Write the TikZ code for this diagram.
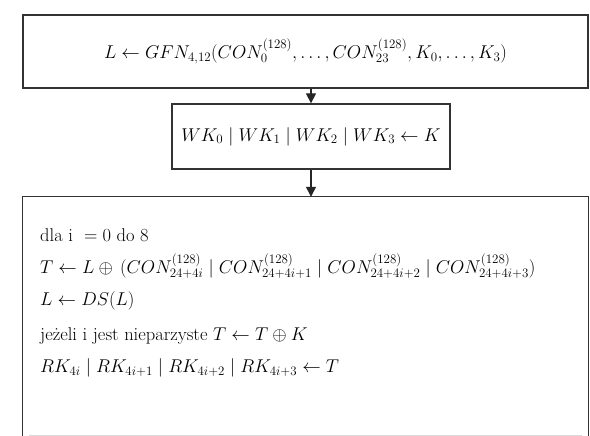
\RequirePackage{fix-cm}
\documentclass[tikz,border=0pt]{standalone}
\usetikzlibrary{arrows.meta}
\begin{document}
\begin{tikzpicture}[x=1pt,y=-1pt,
  box/.style={draw=black!80,line width=1.3pt,inner sep=0pt,font=\fontsize{18.5}{22}\selectfont},
  txt/.style={anchor=west,inner sep=0pt,font=\fontsize{18.5}{22}\selectfont},
  edge3/.style={draw=black!80,line width=1.3pt},
  arr/.style={draw=black!85,line width=1.2pt,-{Triangle[length=10pt,width=10pt]}}]
\useasboundingbox (0,0) rectangle (590,436);
\node[box,minimum width=565pt,minimum height=73pt] (b1) at (305.5,51.5)
  {$L \leftarrow GFN_{4,12}(CON^{(128)}_{0},\ldots,CON^{(128)}_{23},K_0,\ldots,K_3)$};
\node[box,minimum width=278pt,minimum height=65pt] (b2) at (311,136.5)
  {$WK_0\;|\;WK_1\;|\;WK_2\;|\;WK_3 \leftarrow K$};
\node[inner sep=0pt,minimum width=565pt,minimum height=243pt] (b3) at (305.5,318.5) {};
\draw[edge3] (b3.south west) -- (b3.north west) -- (b3.north east) -- (b3.south east);
\draw[black!15,line width=1pt] ([xshift=6pt,yshift=5pt]b3.south west) -- ([xshift=-6pt,yshift=5pt]b3.south east);
\draw[arr] (b1.south -| b2.north) -- (b2.north);
\draw[arr] (b2.south) -- (b2.south |- b3.north);
\node[txt] (l1) at (40,235) {dla i \ $=0$ do 8};
\node[txt] (l2) at (40,266) {$T \leftarrow L \oplus\, (CON^{(128)}_{24+4i}\;|\;CON^{(128)}_{24+4i+1}\;|\;CON^{(128)}_{24+4i+2}\;|\;CON^{(128)}_{24+4i+3})$};
\node[txt] (l3) at (40,301) {$L \leftarrow DS(L)$};
\node[txt] (l4) at (40,336) {jeżeli i jest nieparzyste $T \leftarrow T \oplus K$};
\node[txt] (l5) at (40,368) {$RK_{4i}\;|\;RK_{4i+1}\;|\;RK_{4i+2}\;|\;RK_{4i+3} \leftarrow T$};
\end{tikzpicture}
\end{document}
